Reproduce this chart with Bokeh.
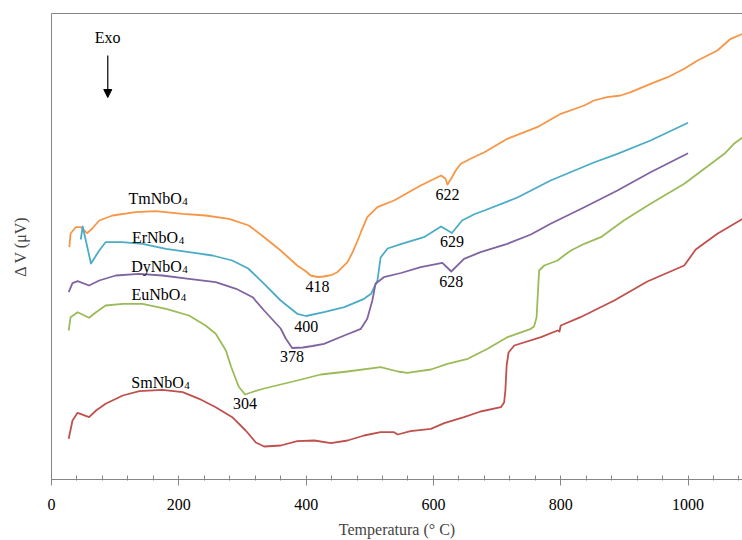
from bokeh.plotting import figure
from bokeh.models import (Range1d, LinearAxis, SingleIntervalTicker, FixedTicker,
                          Arrow, NormalHead, ColumnDataSource)
from bokeh.core.properties import value
from bokeh.embed import file_html
from bokeh.resources import INLINE

# DTA traces: temperature (°C) and differential signal (arbitrary offset units)
tm_t = [28, 30, 38, 46, 56, 64, 75, 96, 132, 164, 206, 242, 279, 310, 334, 360, 386, 400, 407, 418, 428,
        439, 449, 465, 473, 481, 486, 496, 504, 512, 538, 580, 612, 619, 622, 628, 635, 643, 659, 680, 716,
        763, 800, 837, 852, 873, 894, 910, 941, 968, 994, 1015, 1046, 1067, 1086]
tm_v = [232.3, 246, 252.3, 252.3, 246.3, 251, 259, 264, 267.3, 268.3, 265.7, 264, 260.7, 254, 242.3, 229, 214, 208, 204, 202.5, 203,
        204.3, 207.3, 217.3, 227.3, 239, 247.3, 262.3, 267.3, 272.3, 279, 294, 304, 300.7, 295, 301, 309, 315.7, 321, 327.3, 340.7,
        352.3, 365.7, 374, 379, 382.3, 384, 387.3, 395.7, 402.3, 410.7, 419, 429, 440.7, 445.7]

er_t = [46, 49, 62, 75, 85, 111, 143, 180, 216, 253, 284, 309, 334, 360, 386, 400, 428, 460, 491, 502,
        512, 517, 528, 550, 585, 612, 629, 645, 665, 680, 732, 784, 852, 889, 941, 1000]
er_v = [240, 253, 216, 229, 237.3, 237.3, 235.7, 230.7, 227.3, 224, 219, 211, 195.7, 179, 165.7, 163.5, 167.3, 172.3, 180.7, 185.7,
        199, 222, 231, 235.7, 242.3, 253, 246.5, 259, 265.5, 269, 282, 299, 317, 325.7, 339, 356.7]

dy_t = [27, 33, 41, 59, 75, 101, 138, 174, 216, 258, 290, 316, 334, 360, 368, 378, 395, 410, 428, 460, 486,
        496, 504, 509, 522, 549, 580, 614, 628, 648, 674, 716, 753, 784, 837, 889, 941, 1000]
dy_v = [187.3, 196.3, 198.3, 194, 199, 204, 205.7, 204, 200.7, 197.3, 190.7, 182.3, 169, 151, 141, 131.5, 132, 133.5, 135.7, 144, 150.7,
        160.7, 179, 195.7, 202.3, 206.5, 212.3, 216.7, 208, 220.7, 227.3, 235.7, 245, 255.7, 272.3, 289, 307.3, 326.3]

eu_t = [27, 30, 41, 59, 70, 85, 112, 143, 180, 216, 242, 258, 274, 282, 294, 304, 318, 334, 360, 386,
        423, 465, 517, 544, 559, 596, 622, 654, 685, 716, 753, 758, 762, 766, 774, 795, 805, 816, 837, 863,
        899, 941, 994, 1036, 1057, 1072, 1086]
eu_v = [149, 162.3, 167.3, 161.7, 167.3, 174, 175.7, 175.7, 170.7, 164, 154, 145.7, 129, 113, 93, 85, 88, 91, 95, 99,
        105, 108, 112.3, 108, 106.7, 110, 115.7, 120.7, 130.7, 142.3, 150.7, 153, 162, 209, 214, 219, 224, 229, 235.7, 242.3,
        259, 275.7, 295.7, 315.7, 325.7, 335.7, 342.3]

sm_t = [27, 33, 41, 59, 70, 85, 112, 138, 174, 206, 232, 258, 284, 305, 321, 334, 360, 386, 413, 439,
        465, 491, 517, 538, 544, 564, 596, 617, 648, 674, 706, 711, 713, 715, 718, 727, 769, 795, 798, 800,
        831, 884, 936, 994, 1012, 1046, 1086]
sm_v = [40.7, 59, 66.7, 62.3, 69, 75.7, 84, 88.3, 89.7, 87.3, 80.7, 72.3, 62.3, 49, 37, 33, 34, 38.3, 39, 36.3,
        39, 44, 47.3, 47.3, 45, 48.3, 50.7, 56.3, 62.3, 68, 72.3, 77, 89, 114, 127, 134, 142.3, 149, 148, 154,
        162.3, 179, 198, 214, 230, 245.7, 260.7]

compounds = ["TmNbO4", "ErNbO4", "DyNbO4", "EuNbO4", "SmNbO4"]
colors = ["#F79646", "#4BACC6", "#8064A2", "#9BBB59", "#C0504D"]
series = [(tm_t, tm_v), (er_t, er_v), (dy_t, dy_v), (eu_t, eu_v), (sm_t, sm_v)]

# name label anchors (end of the formula body, baseline)
name_x = [204.7, 199, 204.7, 202.3, 207.8]
name_y = [281, 241.7, 213.4, 185, 96.7]

# peak temperatures and where their labels sit
peak_vals = [418, 400, 378, 304, 622, 629, 628]
peak_y = [193.2, 153.2, 123.2, 76.5, 284.9, 238.2, 198.2]

FONT = value("Liberation Serif")
GRAY = "#868686"

p = figure(width=742, height=540, output_backend="svg", toolbar_location=None,
           x_range=Range1d(0, 1085.5), y_range=Range1d(0, 466),
           min_border_left=51, min_border_right=0, min_border_top=13, min_border_bottom=61)
p.outline_line_color = None
p.grid.visible = False
p.background_fill_color = "white"
p.border_fill_color = "white"

for (t, v), c in zip(series, colors):
    p.line(t, v, line_color=c, line_width=1.8, line_join="round")

# x axis
xa = p.xaxis[0]
xa.ticker = SingleIntervalTicker(interval=200, num_minor_ticks=5)
xa.axis_line_color = GRAY
xa.major_tick_line_color = GRAY
xa.minor_tick_line_color = GRAY
xa.major_tick_in = 0
xa.major_tick_out = 6
xa.minor_tick_in = 4
xa.minor_tick_out = 1
xa.major_label_standoff = 13
xa.major_label_text_font = "Liberation Serif"
xa.major_label_text_font_size = "16px"
xa.major_label_text_color = "black"
xa.axis_label = "Temperatura (° C)"
xa.axis_label_text_font = "Liberation Serif"
xa.axis_label_text_font_size = "16px"
xa.axis_label_text_font_style = "normal"
xa.axis_label_standoff = 8

# y axis without ticks
ya = p.yaxis[0]
ya.ticker = FixedTicker(ticks=[])
ya.axis_line_color = GRAY
ya.major_tick_line_color = None
ya.minor_tick_line_color = None
ya.major_tick_out = 0
ya.minor_tick_out = 0
ya.major_label_standoff = 0
ya.major_label_text_font_size = "0px"
ya.axis_label = "Δ V (μV)"
ya.axis_label_text_font = "Liberation Serif"
ya.axis_label_text_font_size = "16px"
ya.axis_label_text_font_style = "normal"
ya.axis_label_standoff = 23

# top frame line
top = LinearAxis(ticker=FixedTicker(ticks=[]), axis_line_color=GRAY,
                 major_tick_line_color=None, minor_tick_line_color=None,
                 major_tick_out=0, minor_tick_out=0, major_label_standoff=0,
                 major_label_text_font_size="0px")
p.add_layout(top, "above")

# compound names with subscript
names_src = ColumnDataSource(dict(x=name_x, y=name_y,
                                  body=[n[:-1] for n in compounds],
                                  sub=[n[-1] for n in compounds]))
p.text(x="x", y="y", text="body", source=names_src, text_align="right",
       text_baseline="alphabetic", text_font=FONT, text_font_size="16px", text_color="black")
p.text(x="x", y="y", text="sub", source=names_src, text_align="left", x_offset=0.5, y_offset=3,
       text_baseline="alphabetic", text_font=FONT, text_font_size="11px", text_color="black")

# peak temperature labels
peaks_src = ColumnDataSource(dict(x=peak_vals, y=peak_y, txt=[str(v) for v in peak_vals]))
p.text(x="x", y="y", text="txt", source=peaks_src, text_align="center",
       text_baseline="alphabetic", text_font=FONT, text_font_size="16px", text_color="black")

# exothermic direction marker
p.text(x=[88.3], y=[441.7], text=["Exo"], text_align="center", text_baseline="alphabetic",
       text_font=FONT, text_font_size="16px", text_color="black")
p.add_layout(Arrow(end=NormalHead(size=8, fill_color="black", line_color="black", line_width=1),
                   x_start=88.4, y_start=424, x_end=88.4, y_end=382,
                   line_color="black", line_width=1.2))

open("out.html", "w").write(file_html(p, INLINE))
